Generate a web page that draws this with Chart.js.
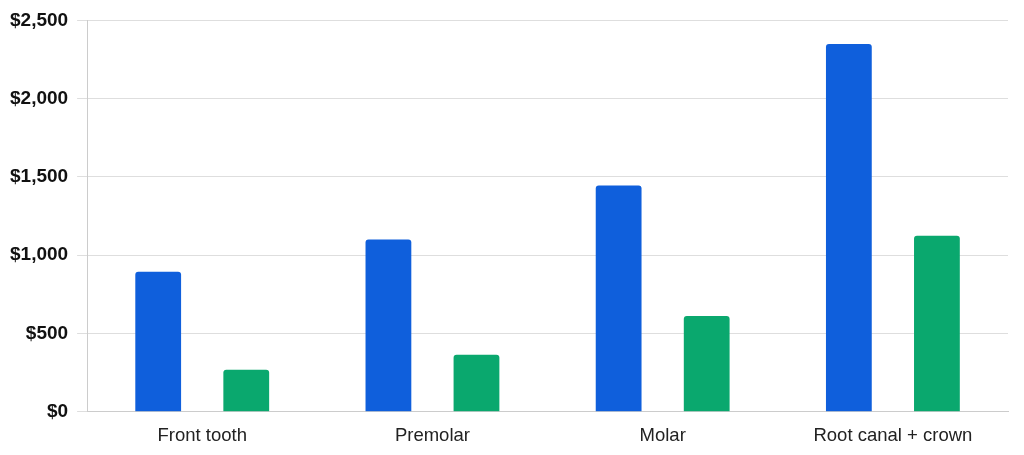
<!DOCTYPE html>
<html>
<head>
<meta charset="utf-8">
<script src="https://cdn.jsdelivr.net/npm/chart.js@4.4.1/dist/chart.umd.min.js"></script>
<style>
html,body{margin:0;padding:0;background:#fff;}
#wrap{width:1024px;height:455px;position:relative;}
</style>
</head>
<body>
<div id="wrap"><canvas id="c"></canvas></div>
<script>
const categories = ["Front tooth", "Premolar", "Molar", "Root canal + crown"];
const seriesBlue = [895, 1100, 1445, 2350];
const seriesGreen = [268, 364, 612, 1125];
const yTicks = [0, 500, 1000, 1500, 2000, 2500];

new Chart(document.getElementById('c'), {
  type: 'bar',
  data: {
    labels: categories,
    datasets: [
      { label: 'A', data: seriesBlue, backgroundColor: '#0f5fdc', borderRadius: 3, borderSkipped: 'bottom', categoryPercentage: 0.765, barPercentage: 0.52 },
      { label: 'B', data: seriesGreen, backgroundColor: '#0aa86e', borderRadius: 3, borderSkipped: 'bottom', categoryPercentage: 0.765, barPercentage: 0.52 }
    ]
  },
  options: {
    responsive: true,
    maintainAspectRatio: false,
    animation: false,
    layout: { padding: { top: 10, right: 16, left: 1, bottom: -5 } },
    plugins: { legend: { display: false }, tooltip: { enabled: false } },
    scales: {
      x: {
        grid: { display: false, drawTicks: false, tickLength: 0 },
        border: { display: true, color: '#cccccc', width: 1 },
        ticks: { color: '#222', font: { family: 'Liberation Sans', size: 18.5 }, padding: 13 }
      },
      y: {
        min: 0, max: 2500,
        afterBuildTicks: (axis) => { axis.ticks = yTicks.map(v => ({ value: v })); },
        grid: { color: '#dedede', tickLength: 10, lineWidth: 1 },
        border: { display: true, color: '#cccccc', width: 1 },
        ticks: {
          color: '#111',
          padding: 9,
          font: { family: 'Liberation Sans', size: 19, weight: 'bold' },
          callback: (v) => '$' + Number(v).toLocaleString('en-US')
        }
      }
    }
  }
});
</script>
</body>
</html>
